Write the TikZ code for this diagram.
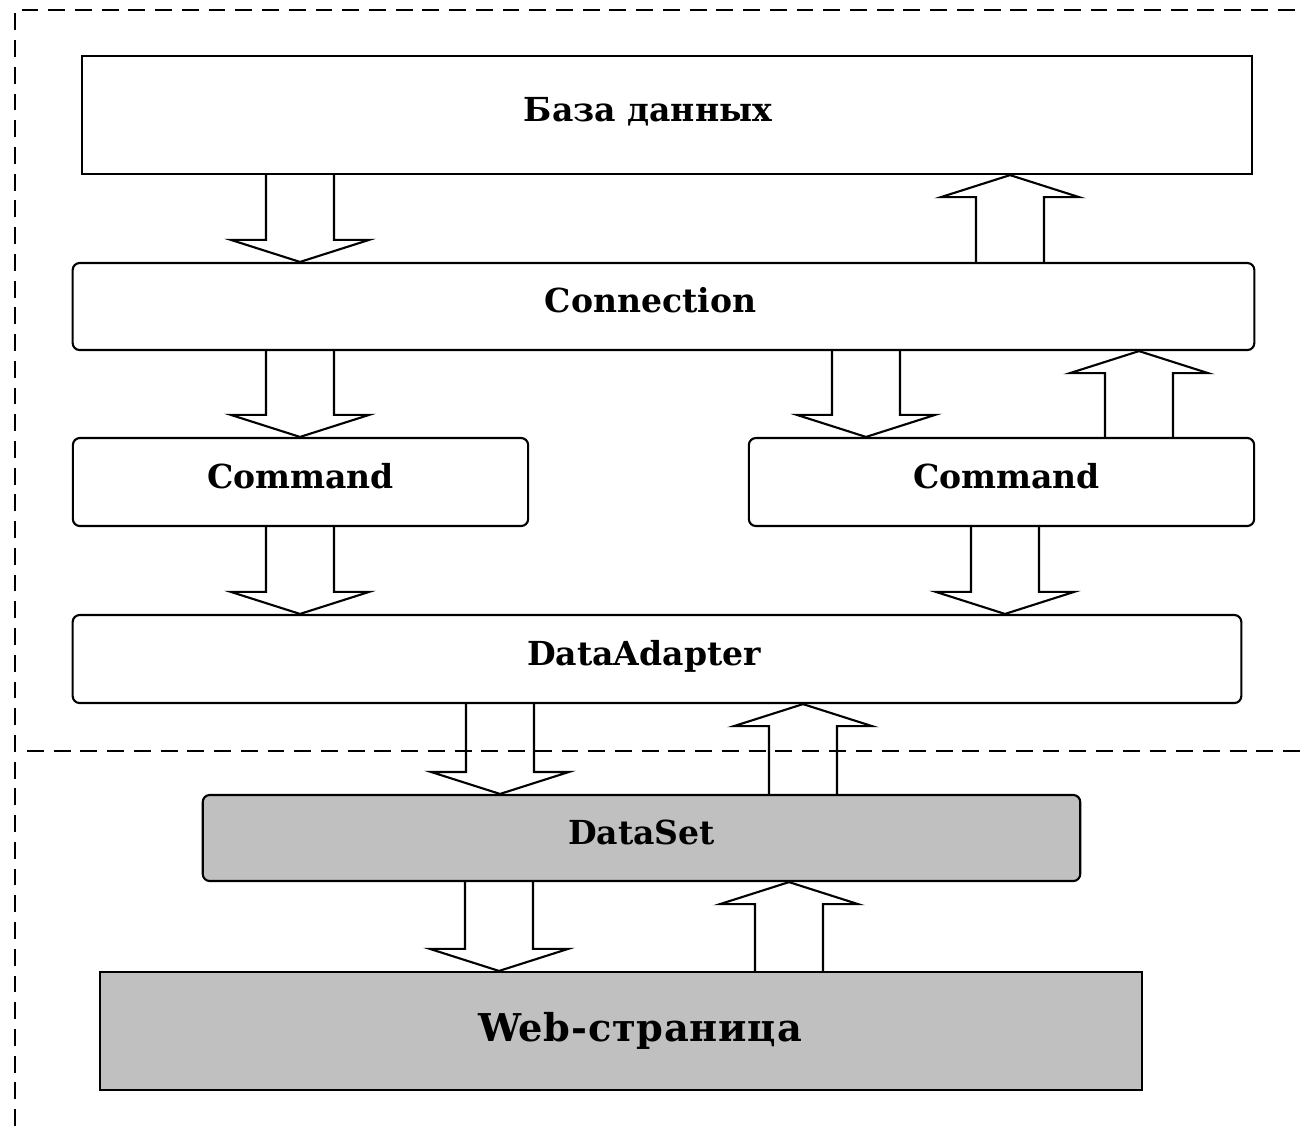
\documentclass[tikz,border=0pt]{standalone}
\usepackage{fontspec}
\usepackage{tikz}
\usetikzlibrary{calc}
\newfontfamily\diagfont{DejaVu Serif}
\newfontfamily\webfont{DejaVu Serif}[LetterSpace=2]
\definecolor{boxgray}{HTML}{C0C0C0}

\tikzset{
  box/.style = {draw, line width=0.6pt, inner sep=0pt, text height=0.75em, text depth=0.4em, font=\diagfont\bfseries\fontsize{9.4}{11}\selectfont},
  roundbox/.style = {box, rounded corners=2pt},
  grey/.style = {fill=boxgray},
  blockarr/.style = {line width=0.6pt, line join=miter},
  sep/.style = {line width=0.6pt, dash pattern=on 4.8pt off 2.8pt}
}

\begin{document}
\begin{tikzpicture}[x=0.01cm, y=-0.01cm]
\useasboundingbox (0,0) rectangle (1303,1126);

\draw[sep] (15,1126) -- (15,10) -- (1303,10);
\draw[sep] (27,751) -- (1303,751);

\draw node[box, minimum width=11.7cm, minimum height=1.18cm] (base) at (667,115) {База данных\hspace*{0.38cm}};
\draw node[roundbox, minimum width=11.81cm, minimum height=0.87cm] (conn) at (663.5,306.5) {Connection\hspace*{0.26cm}};
\draw node[roundbox, minimum width=4.55cm, minimum height=0.88cm] (cmdl) at (300.5,482) {Command};
\draw node[roundbox, minimum width=5.05cm, minimum height=0.88cm] (cmdr) at (1001.5,482) {\hspace*{0.1cm}Command};
\draw node[roundbox, minimum width=11.68cm, minimum height=0.88cm] (adapter) at (657,659) {DataAdapter\hspace*{0.26cm}};
\draw node[roundbox, grey, minimum width=8.77cm, minimum height=0.86cm] (dataset) at (641.5,838) {DataSet};
\draw node[box, grey, minimum width=10.42cm, minimum height=1.18cm, text height=, text depth=, font=\webfont\bfseries\fontsize{10.9}{13}\selectfont] (web) at (621,1031) {\hspace*{0.38cm}Web-страница};

\foreach \from/\to/\xc in {base/conn/300, conn/cmdl/300, conn/cmdr/866, cmdl/adapter/300, cmdr/adapter/1005, adapter/dataset/500, dataset/web/499}{
  \coordinate (xc) at (\xc,0);
  \draw[blockarr] ($(\from.south -| xc)+(-34,0)$) -- ($(\to.north -| xc)+(-34,-22)$) -- ++(-35,0) -- (\to.north -| xc) -- ++(69,-22) -- ++(-35,0) -- ($(\from.south -| xc)+(34,0)$);
}

\foreach \from/\to/\xc in {conn/base/1010, cmdr/conn/1139, dataset/adapter/803, web/dataset/789}{
  \coordinate (xc) at (\xc,0);
  \draw[blockarr] ($(\from.north -| xc)+(-34,0)$) -- ($(\to.south -| xc)+(-34,22)$) -- ++(-35,0) -- (\to.south -| xc) -- ++(69,22) -- ++(-35,0) -- ($(\from.north -| xc)+(34,0)$);
}

\end{tikzpicture}
\end{document}
